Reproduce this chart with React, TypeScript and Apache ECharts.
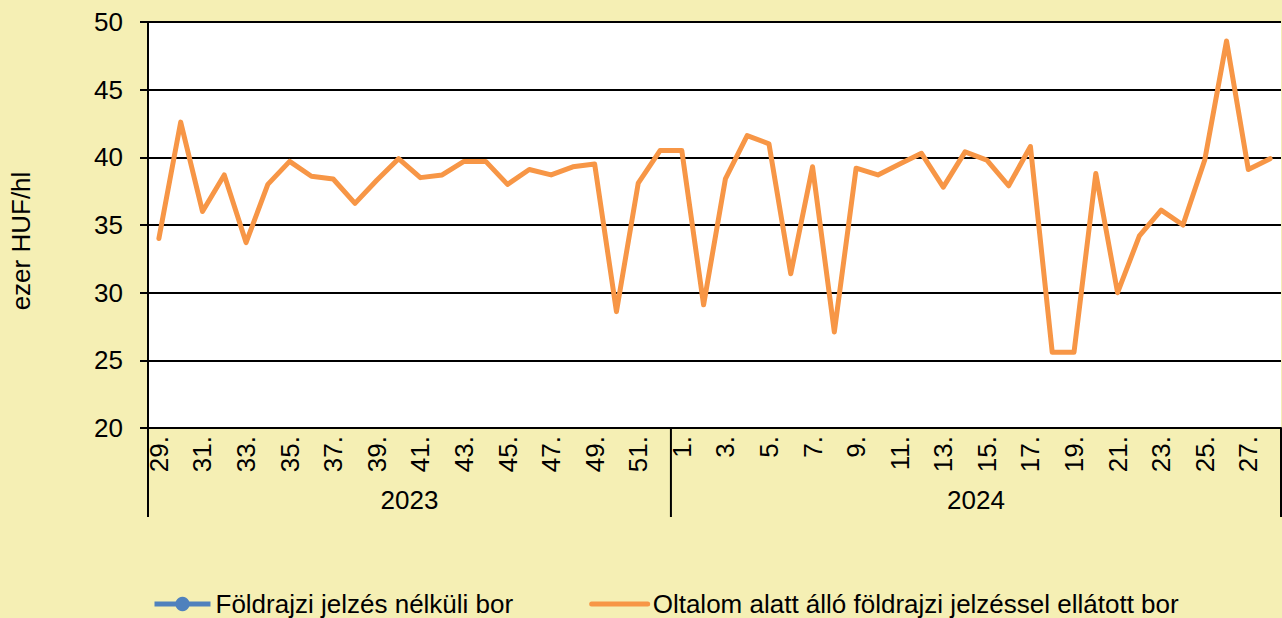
import React, { useEffect, useRef } from "react";
import * as echarts from "echarts";

const weeks2023 = ["29.", "30.", "31.", "32.", "33.", "34.", "35.", "36.", "37.", "38.", "39.", "40.", "41.", "42.", "43.", "44.", "45.", "46.", "47.", "48.", "49.", "50.", "51.", "52."];
const weeks2024 = ["1.", "2.", "3.", "4.", "5.", "6.", "7.", "8.", "9.", "10.", "11.", "12.", "13.", "14.", "15.", "16.", "17.", "18.", "19.", "20.", "21.", "22.", "23.", "24.", "25.", "26.", "27.", "28."];
const years = ["2023", "2024"];

const protectedWine2023 = [34.0, 42.6, 36.0, 38.7, 33.7, 38.0, 39.7, 38.6, 38.4, 36.6, 38.3, 39.9, 38.5, 38.7, 39.7, 39.7, 38.0, 39.1, 38.7, 39.3, 39.5, 28.6, 38.1, 40.5];
const protectedWine2024 = [40.5, 29.1, 38.4, 41.6, 41.0, 31.4, 39.3, 27.1, 39.2, 38.7, 39.5, 40.3, 37.8, 40.4, 39.8, 37.9, 40.8, 25.6, 25.6, 38.8, 30.0, 34.2, 36.1, 35.0, 39.8, 48.6, 39.1, 39.9];
const noGeoWine: (number | null)[] = [];

const seriesNames = ["Földrajzi jelzés nélküli bor", "Oltalom alatt álló földrajzi jelzéssel ellátott bor"];
const yAxisTitle = "ezer HUF/hl";

const FONT = "'Liberation Sans', Arial, sans-serif";
const FS = 26;

export default function App() {
  const ref = useRef<HTMLDivElement>(null);
  useEffect(() => {
    if (!ref.current) return;
    const chart = echarts.init(ref.current, undefined, { renderer: "svg" });
    const categories = [...weeks2023, ...weeks2024];
    const values = [...protectedWine2023, ...protectedWine2024];
    chart.setOption({
      animation: false,
      backgroundColor: "#F5EFB4",
      textStyle: { fontFamily: FONT },
      grid: {
        left: 148,
        right: 1,
        top: 22,
        bottom: 190,
        show: true,
        backgroundColor: "#ffffff",
        borderWidth: 0,
        containLabel: false,
        outerBoundsMode: "none",
      },
      legend: {
        left: 152,
        top: 591,
        padding: 0,
        itemWidth: 56,
        itemHeight: 18,
        itemGap: 76,
        textStyle: { fontSize: FS, color: "#000", fontFamily: FONT },
        data: [
          { name: seriesNames[0], lineStyle: { width: 5 } },
          { name: seriesNames[1], lineStyle: { width: 5 }, itemStyle: { opacity: 0 } },
        ],
      },
      xAxis: {
        type: "category",
        data: categories,
        boundaryGap: true,
        axisLine: { show: true, lineStyle: { color: "#000", width: 2 } },
        axisTick: { show: false },
        axisLabel: { interval: 1, rotate: 90, fontSize: FS, color: "#000", margin: 8, fontFamily: FONT },
        splitLine: { show: false },
      },
      yAxis: {
        type: "value",
        min: 20,
        max: 50,
        interval: 5,
        name: yAxisTitle,
        nameLocation: "middle",
        nameGap: 114,
        nameTextStyle: { fontSize: FS, color: "#000", fontFamily: FONT, padding: [0, 32, 0, 0] },
        axisLine: { show: true, lineStyle: { color: "#000", width: 2 } },
        axisTick: { show: true, length: 8, lineStyle: { color: "#000", width: 2 } },
        axisLabel: { fontSize: FS, color: "#000", margin: 25, fontFamily: FONT },
        splitLine: { show: true, lineStyle: { color: "#000", width: 2 } },
      },
      series: [
        {
          name: seriesNames[0],
          type: "line",
          data: noGeoWine,
          color: "#4F81BD",
          symbol: "circle",
          symbolSize: 13,
          lineStyle: { width: 5, color: "#4F81BD" },
        },
        {
          name: seriesNames[1],
          type: "line",
          data: values,
          color: "#F79646",
          symbol: "none",
          showSymbol: false,
          lineStyle: { width: 5, color: "#F79646", join: "round", cap: "round" },
        },
      ],
    });

    const p0 = chart.convertToPixel({ xAxisIndex: 0 }, 0) as number;
    const p1 = chart.convertToPixel({ xAxisIndex: 0 }, 1) as number;
    const w = p1 - p0;
    const bound = (i: number) => p0 + w * (i - 0.5);
    const yBase = chart.convertToPixel({ yAxisIndex: 0 }, 20) as number;
    const n23 = weeks2023.length;
    const nAll = n23 + weeks2024.length;
    const xs = [bound(0), bound(n23), bound(nAll)];
    const graphics: any[] = [];
    xs.forEach((x) => {
      graphics.push({
        type: "line",
        shape: { x1: x, y1: yBase, x2: x, y2: yBase + 89 },
        style: { stroke: "#000", lineWidth: 2 },
        z: 10,
      });
    });
    [[0, n23], [n23, nAll]].forEach(([a, b], k) => {
      graphics.push({
        type: "text",
        x: (bound(a) + bound(b)) / 2,
        y: yBase + 72,
        style: { text: years[k], fontSize: FS, fill: "#000", align: "center", verticalAlign: "middle", fontFamily: FONT },
        z: 10,
      });
    });
    chart.setOption({ graphic: graphics });

    return () => chart.dispose();
  }, []);
  return <div ref={ref} style={{ position: "absolute", left: 0, top: 0, width: 1282, height: 618 }} />;
}
